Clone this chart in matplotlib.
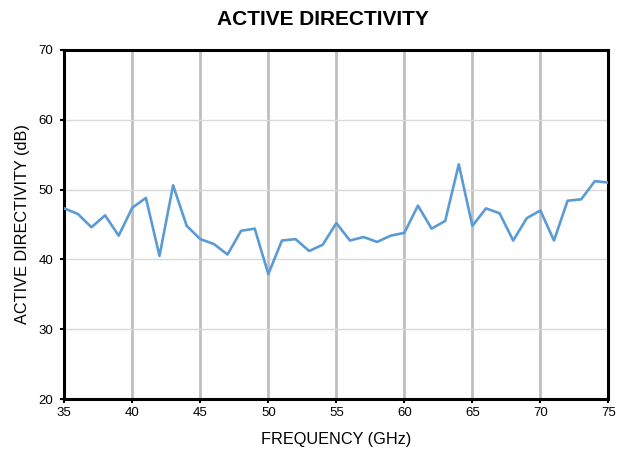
import matplotlib
matplotlib.use("Agg")
import matplotlib.pyplot as plt

plt.rcParams['font.family'] = ['Liberation Sans', 'DejaVu Sans']

# frecuencia (GHz) y directividad activa (dB)
freq = list(range(35, 76))
directivity = [47.3, 46.5, 44.6, 46.3, 43.4, 47.4, 48.8, 40.5, 50.6, 44.8,
               42.9, 42.2, 40.7, 44.1, 44.4, 37.9, 42.7, 42.9, 41.2, 42.1,
               45.2, 42.7, 43.2, 42.5, 43.4, 43.8, 47.7, 44.4, 45.5, 53.6,
               44.8, 47.3, 46.6, 42.7, 45.9, 47.0, 42.7, 48.4, 48.6, 51.2,
               51.0]
xticks = [35, 40, 45, 50, 55, 60, 65, 70, 75]
yticks = [20, 30, 40, 50, 60, 70]

fig = plt.figure(figsize=(6.24, 4.53), dpi=100)
ax = fig.add_axes([0.103, 0.119, 0.872, 0.771])

for x in xticks[1:-1]:
    ax.axvline(x, color='#BFBFBF', linewidth=2.0, zorder=1)
for y in yticks[1:-1]:
    ax.axhline(y, color='#D9D9D9', linewidth=1.0, zorder=1)

ax.plot(freq, directivity, color='#5B9BD5', linewidth=1.9, zorder=3)

ax.set_xlim(35, 75)
ax.set_ylim(20, 70)
ax.set_xticks(xticks)
ax.set_yticks(yticks)
ax.tick_params(direction='out', length=3, width=1.5, labelsize=9.5, pad=3)
ax.tick_params(axis='y', pad=5)

for s in ax.spines.values():
    s.set_linewidth(2.2)
    s.set_color('black')

fig.text(0.518, 0.945, "ACTIVE DIRECTIVITY", fontsize=15, fontweight='bold',
         ha='center', va='baseline')
ax.set_xlabel("FREQUENCY (GHz)", fontsize=11.7, labelpad=9)
ax.set_ylabel("ACTIVE DIRECTIVITY (dB)", fontsize=11.7, labelpad=6)

fig.savefig("out.png", dpi=100)
